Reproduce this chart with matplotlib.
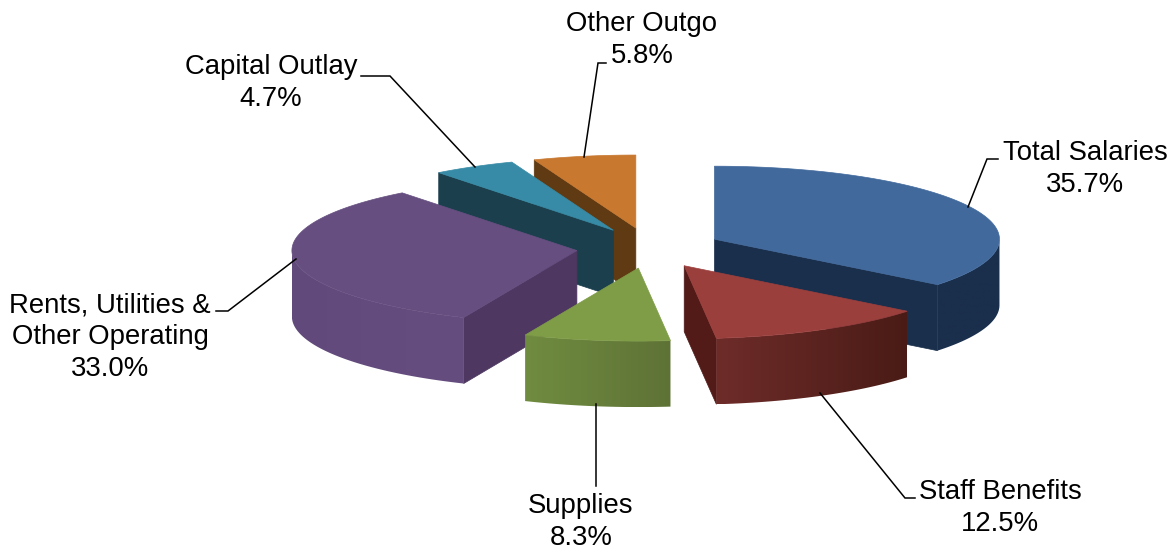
import numpy as np
import matplotlib
matplotlib.use("Agg")
import matplotlib.pyplot as plt
from matplotlib.patches import Polygon
from matplotlib.colors import to_rgb

names = ["Total Salaries", "Staff Benefits", "Supplies", "Rents, Utilities &\nOther Operating", "Capital Outlay", "Other Outgo"]
shares = [35.7, 12.5, 8.3, 33.0, 4.7, 5.8]

top_colors = ["#41699c", "#9b3f3d", "#7f9c47", "#664e80", "#378ba6", "#c8782f"]
cut_colors = ["#1a2f4c", "#521b18", "#5e7236", "#4e3760", "#1b3f4d", "#5f3a12"]
rim_left = ["#1a2f4c", "#6e2c29", "#708c40", "#614a7b", "#1b3f4d", "#5f3a12"]
rim_right = ["#1a2f4c", "#4a1b16", "#5e7236", "#664d80", "#1b3f4d", "#5f3a12"]

label_pos = [(1085, 169), (1000, 508), (581, 522), (110, 337), (271, 83), (642, 40)]
leaders = [
    [(968, 207), (987, 159), (998, 159)],
    [(820, 393), (905, 498), (915, 498)],
    [(596, 404), (596, 486)],
    [(296, 259), (228, 311), (216, 311)],
    [(475, 167), (390, 76), (361, 76)],
    [(584, 157), (598, 63), (606, 63)],
]

# layout of the fake 3d pie, in pixels
cx, cy = 649, 248
rx, ry = 285, 73
depth = 66
explode = 0.255


def arc(apex, a0, a1, n=80):
    a = np.radians(np.linspace(a0, a1, n))
    return np.column_stack([apex[0] + rx * np.sin(a), apex[1] - ry * np.cos(a)])


def down(pts):
    return np.asarray(pts) + [0, depth]


def cut_visible(apex, a, mid):
    d = arc(apex, a, a, 1)[0] - apex
    inner = arc(apex, mid, mid, 1)[0] - apex
    n = np.array([-d[1], d[0]])
    if n @ inner > 0:
        n = -n
    return n[1] > 0


def rim_fill(pts, c0, c1, z):
    patch = Polygon(pts, closed=True, fc="none", ec="none")
    ax.add_patch(patch)
    x0, x1 = pts[:, 0].min(), pts[:, 0].max()
    y0, y1 = pts[:, 1].min(), pts[:, 1].max()
    t = np.linspace(0, 1, 128)[None, :, None]
    grad = (1 - t) * np.array(to_rgb(c0)) + t * np.array(to_rgb(c1))
    im = ax.imshow(grad, extent=(x0, x1, y1, y0), aspect="auto", zorder=z, interpolation="bilinear")
    im.set_clip_path(patch)


fig = plt.figure(figsize=(11.75, 5.5), dpi=100)
ax = fig.add_axes([0, 0, 1, 1])

edges = np.concatenate([[0], np.cumsum(shares)]) / np.sum(shares) * 360

wedges = []
for i in range(len(shares)):
    a0, a1 = edges[i], edges[i + 1]
    mid = np.radians((a0 + a1) / 2)
    apex = np.array([cx + explode * rx * np.sin(mid), cy - explode * ry * 1.09 * np.cos(mid)])
    wedges.append((apex[1], i, apex, a0, a1))

# back wedges first
for z, (_, i, apex, a0, a1) in enumerate(sorted(wedges, key=lambda w: w[0]), start=1):
    mid = (a0 + a1) / 2
    for a in (a0, a1):
        if cut_visible(apex, a, mid):
            p = arc(apex, a, a, 1)[0]
            ax.add_patch(Polygon([apex, p, p + [0, depth], apex + [0, depth]],
                                 fc=cut_colors[i], ec=cut_colors[i], lw=0.5, zorder=z))
    # only the front half of the outer wall can be seen
    lo, hi = max(a0, 90), min(a1, 270)
    if lo < hi:
        outer = arc(apex, lo, hi)
        rim_fill(np.vstack([outer, down(outer)[::-1]]), rim_left[i], rim_right[i], z)
    top = np.vstack([[apex], arc(apex, a0, a1)])
    ax.add_patch(Polygon(top, fc=top_colors[i], ec=top_colors[i], lw=0.5, zorder=z))

for i, name in enumerate(names):
    xs, ys = zip(*leaders[i])
    ax.plot(xs, ys, color="black", lw=1.1, zorder=20, solid_joinstyle="miter")
    ax.text(label_pos[i][0], label_pos[i][1], f"{name}\n{shares[i]:.1f}%", ha="center", va="center",
            fontsize=19.85, family="Liberation Sans", linespacing=1.28, color="black", zorder=21)

ax.set_xlim(0, 1175)
ax.set_ylim(550, 0)
ax.axis("off")
fig.savefig("out.png", dpi=100, facecolor="white")
